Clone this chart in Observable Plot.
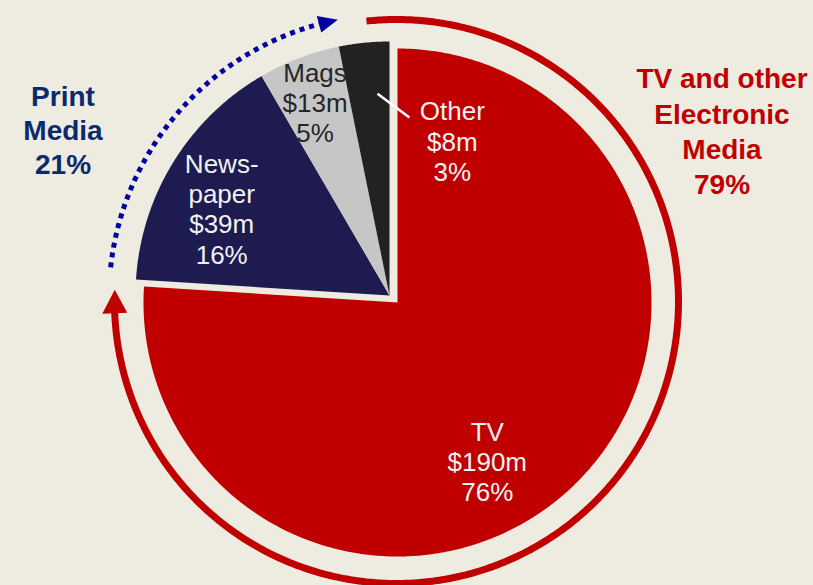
<!DOCTYPE html>
<html><head><meta charset="utf-8">
<script src="https://cdn.jsdelivr.net/npm/d3@7"></script>
<script src="https://cdn.jsdelivr.net/npm/@observablehq/plot@0.6"></script>
<style>html,body{margin:0;padding:0;background:#eeebe1;} svg{display:block}</style>
</head><body><div id="chart"></div>
<script>
// ---- data ----
const categories = ["TV", "Newspaper", "Mags", "Other"];
const values = [190, 39, 13, 8];          // $m
const amounts = ["$190m", "$39m", "$13m", "$8m"];
const shares = ["76%", "16%", "5%", "3%"];
const sliceNames = ["TV", "News-\npaper", "Mags", "Other"];
const groupNames = ["Print\nMedia", "TV and other\nElectronic\nMedia"];
const groupShares = ["21%", "79%"];

// ---- layout / style ----
const W = 813, H = 585;
const BG = "#eeebe1";
const sliceColors = {TV: "#c00000", Newspaper: "#1d1b4f", Mags: "#c6c6c6", Other: "#222222"};
const textColors = {TV: "#f2f2f2", Newspaper: "#f2f2f2", Mags: "#262626", Other: "#f2f2f2"};
const R = 254;
const tvCenter = [397, 302], restCenter = [389, 295];
const deg = Math.PI / 180;
// label anchors: polar (deg, radius) relative to slice's own centre
const labelPolar = {TV: [150.8, 184], Newspaper: [296.8, 188], Mags: [338.7, 205], Other: [22.4, 165]};
const leaderPolar = [[356.6, 202], [6.4, 179]];

const pie = d3.pie().sort(null).value(d => d.value)(categories.map((c, i) => ({category: c, value: values[i], i})));
const byCat = Object.fromEntries(pie.map(p => [p.data.category, p]));
const centerOf = cat => cat === "TV" ? tvCenter : restCenter;
function pt(c, r, a) { return {x: c[0] + r * Math.sin(a), y: c[1] - r * Math.cos(a)}; }

// slice polygons
const slicePts = [];
pie.forEach(p => {
  const cat = p.data.category, c = centerOf(cat);
  slicePts.push({category: cat, ...pt(c, 0, 0)});
  const n = Math.max(2, Math.ceil((p.endAngle - p.startAngle) / deg * 2));
  for (let k = 0; k <= n; k++) {
    const a = p.startAngle + (p.endAngle - p.startAngle) * k / n;
    slicePts.push({category: cat, ...pt(c, R, a)});
  }
  slicePts.push({category: cat, ...pt(c, 0, 0)});
});

// group arcs (with arrowheads)
function arcPts(c, r, a0, a1) {
  const n = Math.ceil(Math.abs(a1 - a0) / deg * 2), out = [];
  for (let k = 0; k <= n; k++) out.push(pt(c, r, a0 + (a1 - a0) * k / n));
  return out;
}
function headPts(c, r, aBase, aTip, hw) {
  const b1 = pt(c, r - hw, aBase), b2 = pt(c, r + hw, aBase), t = pt(c, r, aTip);
  return [b1, t, b2, b1];
}
// electronic: Other + TV (clockwise from Other start, wrapping to TV end)
const redC = [396, 301], redR = 282;
const redStart = byCat.Other.startAngle + 5.4 * deg;
const redTip = byCat.TV.endAngle + 2 * Math.PI - 1.2 * deg;
const redBase = redTip - 4.8 * deg;
const redArc = arcPts(redC, redR, redStart, redBase + 0.5 * deg);
const redHead = headPts(redC, redR, redBase, redTip, 12.5);
// print: Newspaper + Mags
const blueC = [392, 297.5], blueR = 283.5;
const blueStart = byCat.Newspaper.startAngle + 2.6 * deg;
const blueTip = byCat.Mags.endAngle + 0.4 * deg;
const blueBase = blueTip - 3.9 * deg;
const blueArc = arcPts(blueC, blueR, blueStart, blueBase);
const blueHead = headPts(blueC, blueR, blueBase, blueTip, 8.5);

// slice labels
const labelData = pie.map(p => {
  const cat = p.data.category, i = p.data.i;
  const [a, r] = labelPolar[cat];
  const c = cat === "Other" ? restCenter : centerOf(cat);
  return {...pt(c, r, a * deg), text: `${sliceNames[i]}\n${amounts[i]}\n${shares[i]}`, color: textColors[cat]};
});
const leader = [{p1: pt(restCenter, leaderPolar[0][1], leaderPolar[0][0] * deg), p2: pt(restCenter, leaderPolar[1][1], leaderPolar[1][0] * deg)}];

const groupLabels = [
  {x: 62.5, y: 129, text: `${groupNames[0]}\n${groupShares[0]}`, color: "#0b2a6b"},
  {x: 721.5, y: 129.5, text: `${groupNames[1]}\n${groupShares[1]}`, color: "#c00000"}
];

const font = "Liberation Sans, Arial, sans-serif";
const marks = [];
categories.forEach(cat => {
  marks.push(Plot.line(slicePts.filter(d => d.category === cat), {x: "x", y: "y", fill: sliceColors[cat], stroke: "none"}));
});
marks.push(
  Plot.line(redArc, {x: "x", y: "y", stroke: "#c00000", strokeWidth: 7, strokeLinecap: "butt"}),
  Plot.line(redHead, {x: "x", y: "y", fill: "#c00000", stroke: "none"}),
  Plot.line(blueArc, {x: "x", y: "y", stroke: "#0000a0", strokeWidth: 5, strokeDasharray: "5,5", strokeLinecap: "butt", strokeLinejoin: "miter"}),
  Plot.line(blueHead, {x: "x", y: "y", fill: "#0000a0", stroke: "none"}),
  Plot.link(leader, {x1: d => d.p1.x, y1: d => d.p1.y, x2: d => d.p2.x, y2: d => d.p2.y, stroke: "#ffffff", strokeWidth: 2.5}),
  Plot.text(labelData, {x: "x", y: "y", dy: -2, text: "text", fill: "color", fontSize: 26, lineHeight: 1.16, fontFamily: font, textAnchor: "middle"}),
  Plot.text(groupLabels.slice(0, 1), {x: "x", y: "y", text: "text", fill: "color", fontSize: 28, fontWeight: "bold", lineHeight: 1.21, fontFamily: font, textAnchor: "middle"}),
  Plot.text(groupLabels.slice(1), {x: "x", y: "y", text: "text", fill: "color", fontSize: 28, fontWeight: "bold", lineHeight: 1.26, fontFamily: font, textAnchor: "middle"})
);

const chart = Plot.plot({
  width: W, height: H, margin: 0,
  style: {background: BG, overflow: "visible"},
  x: {domain: [0, W], range: [0, W], axis: null},
  y: {domain: [0, H], range: [0, H], axis: null},
  color: {type: "identity"},
  marks
});
document.getElementById("chart").appendChild(chart);
</script>
</body></html>
